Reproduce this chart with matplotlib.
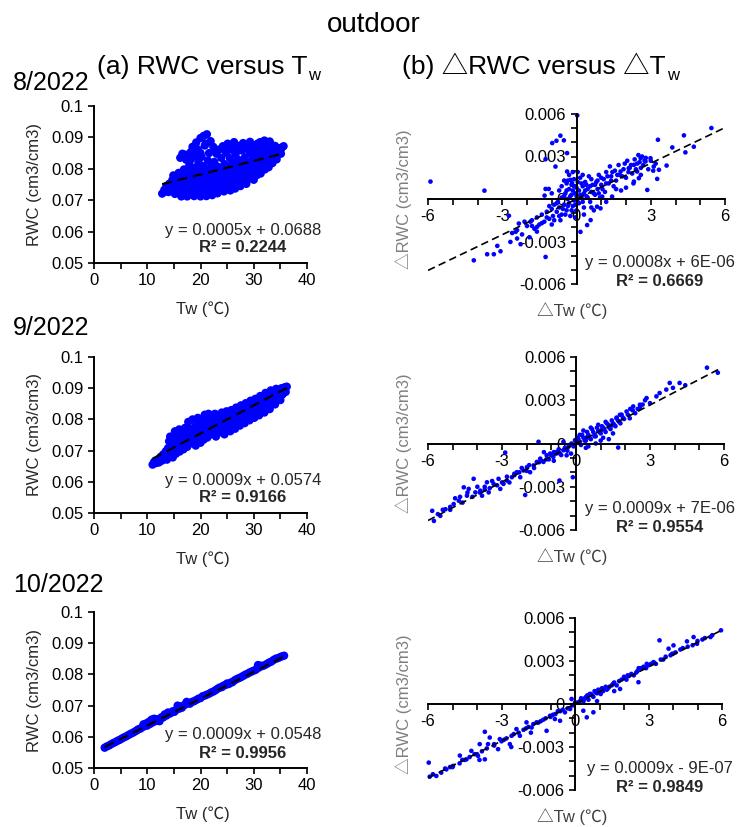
import matplotlib
matplotlib.use('Agg')
import matplotlib.pyplot as plt
import numpy as np
from matplotlib.ticker import MultipleLocator, FixedLocator, FixedFormatter

# Liberation Sans for Latin text, Noto CJK for the triangle and the degree sign
plt.rcParams['font.family'] = ['Liberation Sans', 'Noto Sans CJK SC', 'DejaVu Sans']

FIG_W, FIG_H = 739, 827

# ---------------------------------------------------------------
# Data: (Tw, RWC) for the left column
# ---------------------------------------------------------------
aug_pts = [
    (12.8, 0.0721), (13.2, 0.0733), (13.6, 0.0745), (14.0, 0.0726), (14.1, 0.0752), (14.4, 0.0738),
    (14.7, 0.0764), (14.9, 0.0779), (15.2, 0.0720), (15.3, 0.0748), (15.6, 0.0733), (15.7, 0.0772),
    (15.9, 0.0787), (16.0, 0.0758), (16.2, 0.0835), (16.4, 0.0712), (16.5, 0.0745), (16.6, 0.0848),
    (16.8, 0.0728), (16.9, 0.0798), (17.0, 0.0766), (17.1, 0.0783), (17.3, 0.0829), (17.5, 0.0712),
    (17.6, 0.0742), (17.8, 0.0757), (17.9, 0.0812), (18.0, 0.0727), (18.1, 0.0773), (18.2, 0.0854),
    (18.3, 0.0793), (18.5, 0.0870), (18.6, 0.0838), (18.8, 0.0713), (18.9, 0.0745), (19.0, 0.0760),
    (19.1, 0.0805), (19.2, 0.0884), (19.3, 0.0729), (19.4, 0.0776), (19.5, 0.0862), (19.6, 0.0823),
    (19.8, 0.0791), (20.0, 0.0712), (20.0, 0.0898), (20.1, 0.0745), (20.2, 0.0838), (20.3, 0.0762),
    (20.4, 0.0728), (20.5, 0.0809), (20.6, 0.0905), (20.7, 0.0778), (20.8, 0.0874), (21.0, 0.0794),
    (21.1, 0.0713), (21.2, 0.0910), (21.3, 0.0748), (21.4, 0.0826), (21.5, 0.0765), (21.6, 0.0850),
    (21.7, 0.0731), (21.8, 0.0782), (21.9, 0.0888), (22.0, 0.0807), (22.2, 0.0716), (22.3, 0.0755),
    (22.4, 0.0870), (22.5, 0.0738), (22.6, 0.0822), (22.8, 0.0771), (22.9, 0.0790), (23.0, 0.0848),
    (23.2, 0.0722), (23.3, 0.0806), (23.5, 0.0760), (23.6, 0.0862), (23.7, 0.0742), (23.9, 0.0835),
    (24.0, 0.0781), (24.1, 0.0797), (24.2, 0.0872), (24.4, 0.0728), (24.5, 0.0815), (24.7, 0.0766),
    (24.8, 0.0851), (25.0, 0.0748), (25.1, 0.0880), (25.2, 0.0800), (25.3, 0.0784), (25.5, 0.0834),
    (25.6, 0.0731), (25.8, 0.0867), (25.9, 0.0770), (26.0, 0.0818), (26.2, 0.0752), (26.3, 0.0885),
    (26.4, 0.0800), (26.5, 0.0737), (26.6, 0.0848), (26.8, 0.0785), (26.9, 0.0769), (27.0, 0.0830),
    (27.2, 0.0873), (27.3, 0.0812), (27.5, 0.0745), (27.6, 0.0795), (27.8, 0.0858), (27.9, 0.0761),
    (28.0, 0.0882), (28.2, 0.0777), (28.3, 0.0835), (28.5, 0.0815), (28.6, 0.0752), (28.8, 0.0868),
    (28.9, 0.0797), (29.0, 0.0768), (29.2, 0.0850), (29.3, 0.0886), (29.5, 0.0784), (29.6, 0.0826),
    (29.8, 0.0808), (30.0, 0.0765), (30.1, 0.0866), (30.3, 0.0842), (30.4, 0.0795), (30.6, 0.0780),
    (30.7, 0.0880), (30.9, 0.0820), (31.0, 0.0857), (31.2, 0.0803), (31.3, 0.0785), (31.5, 0.0838),
    (31.7, 0.0874), (31.9, 0.0820), (32.0, 0.0890), (32.1, 0.0798), (32.3, 0.0855), (32.5, 0.0836),
    (32.7, 0.0813), (32.9, 0.0872), (33.0, 0.0887), (33.2, 0.0825), (33.4, 0.0850), (33.6, 0.0866),
    (33.8, 0.0838), (34.0, 0.0873), (34.2, 0.0855), (34.5, 0.0845), (34.7, 0.0866), (35.0, 0.0858),
    (35.3, 0.0868), (35.6, 0.0872),
    # denser lower part of the cloud
    (13.5, 0.0728), (14.5, 0.0730), (15.0, 0.0758), (15.5, 0.0762), (16.0, 0.0722), (16.3, 0.0770),
    (16.7, 0.0755), (17.2, 0.0720), (17.4, 0.0795), (17.7, 0.0770), (18.4, 0.0735), (18.6, 0.0760),
    (18.7, 0.0785), (19.0, 0.0720), (19.4, 0.0742), (19.7, 0.0758), (19.9, 0.0810), (20.2, 0.0722),
    (20.4, 0.0790), (20.9, 0.0740), (20.9, 0.0757), (21.3, 0.0772), (21.5, 0.0722), (21.7, 0.0800),
    (22.1, 0.0730), (22.2, 0.0765), (22.6, 0.0748), (22.7, 0.0802), (23.1, 0.0738), (23.4, 0.0785),
    (23.8, 0.0752), (23.9, 0.0770), (24.3, 0.0743), (24.4, 0.0790), (24.8, 0.0735), (24.9, 0.0808),
    (25.4, 0.0758), (25.5, 0.0775), (25.9, 0.0745), (26.1, 0.0790), (26.6, 0.0762), (26.7, 0.0810),
    (27.1, 0.0752), (27.2, 0.0778), (27.7, 0.0770), (27.8, 0.0822), (28.1, 0.0760), (28.4, 0.0795),
    (28.9, 0.0780), (29.1, 0.0812), (29.4, 0.0770), (29.9, 0.0793), (30.2, 0.0812), (30.5, 0.0830),
    (31.1, 0.0795), (31.4, 0.0815), (31.8, 0.0800), (32.2, 0.0828), (32.6, 0.0850), (32.8, 0.0805),
    (33.1, 0.0840), (33.5, 0.0818), (33.9, 0.0855), (34.3, 0.0830), (34.4, 0.0866), (35.1, 0.0848),
    (20.0, 0.0850), (21.0, 0.0880), (19.0, 0.0845), (18.0, 0.0825), (17.2, 0.0845), (22.8, 0.0858),
    (24.6, 0.0865), (26.0, 0.0860), (27.4, 0.0865), (29.8, 0.0875), (31.2, 0.0885), (33.2, 0.0878),
    (30.9, 0.0868),
]

sep_pts = [
    (11.0, 0.0655), (11.3, 0.0664), (11.7, 0.0660), (12.0, 0.0671), (12.2, 0.0662), (12.5, 0.0680),
    (12.8, 0.0668), (13.0, 0.0688), (13.2, 0.0676), (13.5, 0.0698), (13.7, 0.0671), (13.9, 0.0708),
    (14.0, 0.0685), (14.1, 0.0730), (14.3, 0.0745), (14.5, 0.0694), (14.6, 0.0718), (14.8, 0.0678),
    (15.0, 0.0735), (15.1, 0.0705), (15.2, 0.0762), (15.4, 0.0690), (15.5, 0.0722), (15.7, 0.0748),
    (15.9, 0.0712), (16.0, 0.0768), (16.1, 0.0697), (16.3, 0.0735), (16.5, 0.0757), (16.6, 0.0720),
    (16.8, 0.0704), (17.0, 0.0745), (17.1, 0.0773), (17.3, 0.0730), (17.5, 0.0712), (17.6, 0.0760),
    (17.7, 0.0792), (17.9, 0.0740), (18.0, 0.0722), (18.2, 0.0769), (18.3, 0.0755), (18.5, 0.0800),
    (18.6, 0.0732), (18.8, 0.0748), (19.0, 0.0778), (19.1, 0.0716), (19.3, 0.0762), (19.5, 0.0805),
    (19.6, 0.0740), (19.8, 0.0788), (20.0, 0.0725), (20.1, 0.0770), (20.3, 0.0752), (20.5, 0.0798),
    (20.6, 0.0735), (20.8, 0.0815), (21.0, 0.0780), (21.1, 0.0762), (21.3, 0.0742), (21.5, 0.0818),
    (21.6, 0.0795), (21.8, 0.0772), (22.0, 0.0752), (22.2, 0.0808), (22.3, 0.0786), (22.5, 0.0765),
    (22.7, 0.0818), (22.9, 0.0745), (23.0, 0.0798), (23.2, 0.0778), (23.4, 0.0812), (23.5, 0.0758),
    (23.8, 0.0790), (24.0, 0.0822), (24.1, 0.0768), (24.3, 0.0805), (24.5, 0.0752), (24.7, 0.0784),
    (24.9, 0.0826), (25.0, 0.0770), (25.2, 0.0812), (25.4, 0.0795), (25.6, 0.0762), (25.8, 0.0830),
    (26.0, 0.0780), (26.1, 0.0815), (26.3, 0.0800), (26.5, 0.0770), (26.7, 0.0838), (26.9, 0.0790),
    (27.0, 0.0822), (27.2, 0.0808), (27.4, 0.0780), (27.6, 0.0845), (27.8, 0.0797), (28.0, 0.0830),
    (28.1, 0.0815), (28.3, 0.0788), (28.5, 0.0852), (28.7, 0.0806), (28.9, 0.0838), (29.0, 0.0822),
    (29.2, 0.0797), (29.4, 0.0860), (29.6, 0.0815), (29.8, 0.0847), (30.0, 0.0830), (30.1, 0.0805),
    (30.3, 0.0866), (30.5, 0.0822), (30.7, 0.0855), (30.9, 0.0839), (31.0, 0.0813), (31.2, 0.0875),
    (31.4, 0.0832), (31.6, 0.0862), (31.8, 0.0848), (32.0, 0.0822), (32.2, 0.0885), (32.4, 0.0842),
    (32.6, 0.0870), (32.8, 0.0857), (33.0, 0.0833), (33.2, 0.0893), (33.4, 0.0852), (33.6, 0.0878),
    (33.8, 0.0866), (34.0, 0.0848), (34.2, 0.0898), (34.4, 0.0866), (34.6, 0.0884), (34.8, 0.0875),
    (35.0, 0.0862), (35.2, 0.0900), (35.4, 0.0880), (35.6, 0.0892), (35.8, 0.0903), (36.0, 0.0888),
    (36.2, 0.0905),
]

oct_pts = [
    (2.0, 0.0565), (2.4, 0.0569), (2.8, 0.0572), (3.2, 0.0576), (3.6, 0.0580), (4.0, 0.0583),
    (4.4, 0.0587), (4.8, 0.0590), (5.2, 0.0594), (5.6, 0.0598), (6.0, 0.0601), (6.4, 0.0605),
    (6.8, 0.0609), (7.2, 0.0612), (7.6, 0.0616), (8.0, 0.0620), (8.3, 0.0624), (8.7, 0.0626),
    (9.0, 0.0630), (9.3, 0.0640), (9.5, 0.0634), (9.8, 0.0643), (10.0, 0.0636), (10.3, 0.0648),
    (10.5, 0.0641), (10.8, 0.0655), (11.0, 0.0646), (11.3, 0.0658), (11.5, 0.0650), (11.8, 0.0656),
    (12.0, 0.0653), (12.3, 0.0650), (12.5, 0.0660), (12.8, 0.0664), (13.0, 0.0662), (13.3, 0.0672),
    (13.6, 0.0668), (13.9, 0.0678), (14.2, 0.0674), (14.5, 0.0677), (14.8, 0.0682), (15.1, 0.0680),
    (15.4, 0.0686), (15.7, 0.0700), (16.0, 0.0690), (16.2, 0.0697), (16.5, 0.0693), (16.8, 0.0700),
    (17.1, 0.0703), (17.4, 0.0712), (17.7, 0.0708), (18.0, 0.0706), (18.4, 0.0712), (18.8, 0.0714),
    (19.2, 0.0718), (19.6, 0.0722), (20.0, 0.0724), (20.4, 0.0730), (20.8, 0.0732), (21.2, 0.0735),
    (21.6, 0.0738), (22.0, 0.0742), (22.4, 0.0745), (22.8, 0.0749), (23.2, 0.0754), (23.6, 0.0758),
    (24.0, 0.0759), (24.3, 0.0764), (24.7, 0.0766), (25.0, 0.0771), (25.3, 0.0769), (25.7, 0.0774),
    (26.0, 0.0775), (26.4, 0.0781), (26.8, 0.0785), (27.2, 0.0788), (27.6, 0.0791), (28.0, 0.0795),
    (28.4, 0.0799), (28.8, 0.0802), (29.2, 0.0806), (29.6, 0.0809), (30.0, 0.0812), (30.4, 0.0815),
    (30.8, 0.0830), (31.0, 0.0822), (31.3, 0.0828), (31.7, 0.0827), (32.1, 0.0830), (32.5, 0.0834),
    (32.9, 0.0838), (33.3, 0.0841), (33.7, 0.0846), (34.1, 0.0850), (34.5, 0.0852), (34.9, 0.0855),
    (35.3, 0.0858), (35.7, 0.0860),
]

# (dTw, dRWC) for the right column
aug_delta = [
    (-5.90, 0.00123), (-3.72, 0.00059), (0.03, 0.00590), (5.45, 0.00501), (4.34, 0.00449),
    (4.74, 0.00369), (4.40, 0.00329), (3.87, 0.00364), (3.29, 0.00418), (3.64, 0.00236),
    (3.33, 0.00206), (3.26, 0.00142), (2.86, 0.00064), (-0.65, 0.00447), (-0.81, 0.00411),
    (-0.98, 0.00395), (-0.51, 0.00414), (-0.38, 0.00324), (-1.25, 0.00281), (-0.85, 0.00229),
    (-0.38, 0.00194), (-0.24, 0.00135), (-0.18, 0.00111), (-1.25, 0.00071), (-1.12, 0.00071),
    (-1.29, 0.00024), (-2.73, -0.00118), (-4.15, -0.00433), (-3.61, -0.00390), (-3.34, -0.00390),
    (-3.07, -0.00369), (-3.20, -0.00331), (-2.67, -0.00303), (-2.26, -0.00319), (-2.40, -0.00279),
    (-1.25, -0.00409), (0.16, -0.00232), (-2.33, -0.00173), (-1.86, -0.00160), (-2.46, -0.00232),
    (-1.59, -0.00196), (-2.40, -0.00220), (-2.20, -0.00250), (-2.00, -0.00190), (-1.90, -0.00270),
    (-1.80, -0.00150), (-1.70, -0.00210), (-1.60, -0.00130), (-1.50, -0.00180), (-1.40, -0.00110),
    (-1.30, -0.00160), (-1.20, -0.00090), (-1.10, -0.00140), (-1.00, -0.00070), (-0.95, -0.00120),
    (-0.90, -0.00040), (-0.80, -0.00090), (-0.75, -0.00020), (-0.70, -0.00060), (-0.60, -0.00110),
    (-0.60, 0.00010), (-0.50, -0.00040), (-0.45, 0.00040), (-0.40, -0.00080), (-0.35, 0.00000),
    (-0.30, -0.00030), (-0.30, 0.00070), (-0.25, -0.00120), (-0.20, 0.00030), (-0.15, -0.00050),
    (-0.10, 0.00090), (-0.10, -0.00010), (-0.05, 0.00040), (0.00, -0.00080), (0.00, 0.00020),
    (0.05, 0.00120), (0.10, -0.00030), (0.10, 0.00060), (0.15, 0.00150), (0.20, 0.00010),
    (0.25, 0.00090), (0.30, 0.00040), (0.30, -0.00060), (0.35, 0.00120), (0.40, 0.00020),
    (0.45, 0.00070), (0.50, 0.00160), (0.55, -0.00020), (0.60, 0.00050), (0.65, 0.00100),
    (0.70, -0.00080), (0.75, 0.00030), (0.80, 0.00120), (0.85, 0.00070), (0.90, 0.00170),
    (0.95, 0.00010), (1.00, 0.00100), (1.10, 0.00140), (1.15, 0.00050), (1.20, 0.00190),
    (1.30, 0.00110), (1.35, 0.00230), (1.40, 0.00160), (1.50, 0.00090), (1.55, 0.00200),
    (1.60, 0.00130), (1.70, 0.00240), (1.75, 0.00170), (1.80, 0.00060), (1.90, 0.00210),
    (2.00, 0.00150), (2.05, 0.00270), (2.10, 0.00190), (2.20, 0.00240), (2.30, 0.00110),
    (2.35, 0.00280), (2.40, 0.00210), (2.50, 0.00310), (2.55, 0.00260), (2.60, 0.00170),
    (2.65, 0.00300), (2.70, 0.00240), (2.80, 0.00290), (2.90, 0.00210), (3.00, 0.00270),
    (3.10, 0.00200), (3.20, 0.00250), (1.44, 0.00017), (1.04, 0.00017), (0.83, -0.00054),
    (0.97, -0.00066), (0.57, -0.00149), (0.43, -0.00184), (2.52, 0.00147), (2.32, 0.00123),
    (2.45, 0.00194), (2.11, 0.00217), (1.78, 0.00194), (2.99, 0.00288), (2.79, 0.00265),
    (2.59, 0.00288), (2.32, 0.00241), (3.12, 0.00229), (-0.50, 0.00130), (-0.30, 0.00170),
    (-0.10, 0.00140), (0.05, 0.00190), (-0.20, 0.00100), (-0.70, 0.00060), (-0.40, 0.00110),
    (-1.80, -0.00190), (-1.60, -0.00230), (-1.40, -0.00170), (-1.20, -0.00130), (-1.10, -0.00050),
    (-0.90, -0.00150), (-0.80, -0.00030), (-0.70, -0.00120), (-0.55, -0.00070), (-0.50, 0.00020),
    (-0.45, -0.00110), (-0.40, 0.00060), (-0.35, -0.00050), (-0.25, 0.00020), (-0.20, -0.00080),
    (-0.15, 0.00060), (-0.05, -0.00040), (0.00, 0.00080), (0.05, -0.00020), (0.15, 0.00030),
    (0.20, 0.00110), (0.25, -0.00020), (0.35, 0.00060), (0.40, 0.00100), (0.45, 0.00010),
    (0.55, 0.00090), (0.60, 0.00140), (0.70, 0.00040), (0.75, 0.00100), (0.85, 0.00130),
    (0.90, 0.00040), (1.00, 0.00150), (1.05, 0.00070), (1.20, 0.00110), (1.25, 0.00160),
    (1.40, 0.00130), (1.45, 0.00190), (1.65, 0.00170), (1.85, 0.00160), (1.95, 0.00250),
    (2.15, 0.00220), (2.25, 0.00180), (2.45, 0.00250), (2.60, 0.00220), (2.75, 0.00270),
    (-0.65, -0.00150), (-1.00, -0.00180), (-2.10, -0.00160), (-2.60, -0.00240), (-0.15, 0.00190),
    (-0.35, 0.00130), (0.25, 0.00170), (-0.60, 0.00090), (-1.00, 0.00040), (1.20, -0.00020),
    (1.60, 0.00070), (2.00, 0.00080), (0.30, -0.00110), (-0.05, -0.00130), (0.60, -0.00060),
]

sep_delta = [
    (5.31, 0.00526), (5.75, 0.00491), (4.43, 0.00404), (4.20, 0.00420), (3.80, 0.00420),
    (3.93, 0.00386), (3.66, 0.00374), (3.39, 0.00350), (3.26, 0.00327), (2.86, 0.00315),
    (2.59, 0.00269), (2.32, 0.00257), (2.05, 0.00222), (1.78, 0.00199), (1.64, 0.00175),
    (2.18, 0.00175), (1.71, -0.00028), (1.33, 0.00030), (-1.52, 0.00012), (-2.87, -0.00063),
    (-0.13, -0.00234), (-0.67, -0.00257), (-2.06, -0.00357), (-5.83, -0.00467), (-5.76, -0.00537),
    (-5.50, -0.00502), (-5.29, -0.00456), (-4.96, -0.00420), (-4.75, -0.00397), (-4.55, -0.00304),
    (-4.35, -0.00315), (-4.42, -0.00362), (-4.15, -0.00245), (-4.08, -0.00339), (-3.88, -0.00327),
    (-3.81, -0.00362), (-3.61, -0.00269), (-3.54, -0.00339), (-3.34, -0.00280), (-3.14, -0.00245),
    (-3.07, -0.00315), (-2.94, -0.00280), (-2.80, -0.00257), (-2.60, -0.00234), (-2.40, -0.00199),
    (-2.26, -0.00234), (-2.13, -0.00187), (-1.99, -0.00164), (-1.86, -0.00199), (-1.72, -0.00152),
    (-1.59, -0.00128), (-1.45, -0.00105), (-1.32, -0.00128), (-1.19, -0.00082), (-1.05, -0.00070),
    (-0.92, -0.00093), (-0.78, -0.00058), (-0.65, -0.00070), (-0.51, -0.00047), (-0.38, -0.00082),
    (-0.31, -0.00023), (-0.18, 0.00000), (-0.04, 0.00023), (-0.51, 0.00012), (0.10, 0.00030),
    (0.20, -0.00010), (0.30, 0.00040), (0.40, 0.00020), (0.50, 0.00060), (0.60, 0.00030),
    (0.70, 0.00080), (0.80, 0.00050), (0.90, 0.00090), (1.00, 0.00070), (1.10, 0.00110),
    (1.20, 0.00080), (1.30, 0.00130), (1.40, 0.00100), (1.50, 0.00140), (1.60, 0.00120),
    (1.70, 0.00160), (1.80, 0.00140), (1.90, 0.00180), (0.30, 0.00090), (0.60, 0.00110),
    (0.90, 0.00130), (1.20, 0.00150), (0.50, -0.00020), (1.00, 0.00020), (2.30, 0.00230),
    (2.50, 0.00240), (2.70, 0.00270), (2.80, 0.00300), (3.00, 0.00280), (-4.70, -0.00370),
    (-5.10, -0.00440), (-3.70, -0.00300), (-2.50, -0.00210), (-1.20, -0.00110), (-0.90, -0.00060),
    (0.15, 0.00060), (0.45, 0.00045), (0.75, 0.00060), (1.05, 0.00095), (1.45, 0.00125),
    (-5.60, -0.00490), (-5.40, -0.00460), (-5.10, -0.00460), (-4.90, -0.00380), (-4.60, -0.00410),
    (-4.40, -0.00340), (-4.20, -0.00370), (-4.00, -0.00300), (-3.90, -0.00340), (-3.70, -0.00320),
    (-3.50, -0.00310), (-3.40, -0.00260), (-3.20, -0.00290), (-3.00, -0.00270), (-2.80, -0.00230),
    (-2.70, -0.00270), (-2.50, -0.00220), (-2.30, -0.00200), (-2.20, -0.00170), (-2.00, -0.00190),
    (-1.90, -0.00150), (-1.70, -0.00170), (-1.50, -0.00130), (-1.40, -0.00120), (-1.10, -0.00110),
    (-1.00, -0.00080), (-0.80, -0.00070), (-0.70, -0.00040), (-0.60, -0.00080), (-0.45, -0.00030),
    (-0.35, -0.00050), (-0.25, -0.00010), (-0.10, -0.00020), (0.00, 0.00010), (0.05, 0.00040),
    (0.15, 0.00010), (0.25, 0.00060), (0.35, 0.00020), (0.45, 0.00080), (0.55, 0.00040),
    (0.65, 0.00100), (0.75, 0.00050), (0.85, 0.00110), (0.95, 0.00080), (1.05, 0.00120),
    (1.15, 0.00100), (1.25, 0.00140), (1.35, 0.00110), (1.45, 0.00160), (1.55, 0.00130),
    (1.65, 0.00180), (1.75, 0.00150), (1.85, 0.00200), (1.95, 0.00170), (2.10, 0.00200),
    (2.20, 0.00240), (2.40, 0.00210), (2.60, 0.00250), (0.40, -0.00030), (0.80, 0.00000),
    (1.10, 0.00040), (1.50, 0.00070), (-1.30, -0.00060), (-0.90, -0.00120), (-0.20, -0.00070),
]

oct_delta = [
    (5.96, 0.00514), (5.53, 0.00467), (4.84, 0.00467), (4.57, 0.00437), (4.98, 0.00420),
    (3.45, 0.00444), (4.02, 0.00409), (3.82, 0.00386), (3.96, 0.00350), (3.21, 0.00292),
    (2.93, 0.00280), (2.59, 0.00152), (1.84, 0.00105), (0.48, -0.00093), (0.75, -0.00058),
    (0.34, -0.00047), (-5.97, -0.00409), (-5.93, -0.00507), (-5.66, -0.00502), (-5.46, -0.00479),
    (-5.25, -0.00456), (-4.98, -0.00432), (-4.71, -0.00414), (-4.43, -0.00386), (-4.23, -0.00327),
    (-3.96, -0.00362), (-3.68, -0.00386), (-3.68, -0.00194), (-3.89, -0.00280), (-3.55, -0.00280),
    (-3.48, -0.00234), (-3.14, -0.00315), (-3.07, -0.00245), (-2.66, -0.00280), (-2.59, -0.00222),
    (-2.39, -0.00175), (-2.25, -0.00222), (-1.98, -0.00128), (-1.77, -0.00164), (-1.57, -0.00128),
    (-1.16, -0.00187), (-1.02, -0.00082), (-0.82, -0.00105), (-0.61, -0.00117), (-0.41, -0.00058),
    (-0.20, -0.00035), (-0.14, 0.00035), (0.00, 0.00010), (0.20, 0.00020), (0.40, 0.00040),
    (0.50, 0.00060), (0.70, 0.00060), (0.80, 0.00090), (1.00, 0.00080), (1.10, 0.00110),
    (1.30, 0.00100), (1.50, 0.00130), (1.60, 0.00150), (1.80, 0.00160), (2.00, 0.00190),
    (2.10, 0.00170), (2.30, 0.00210), (2.50, 0.00220), (2.60, 0.00250), (2.80, 0.00260),
    (3.00, 0.00270), (3.20, 0.00290), (3.50, 0.00310), (3.70, 0.00330), (4.00, 0.00350),
    (4.30, 0.00380), (4.60, 0.00400), (5.00, 0.00440), (5.30, 0.00460), (-5.00, -0.00440),
    (-4.50, -0.00390), (-4.00, -0.00350), (-3.30, -0.00290), (-2.90, -0.00250), (-2.00, -0.00170),
    (-1.50, -0.00130), (-1.30, -0.00110), (-0.90, -0.00075), (-0.60, -0.00050), (0.30, 0.00030),
    (0.60, 0.00070), (0.90, 0.00075), (1.20, 0.00105), (1.40, 0.00120), (2.20, 0.00195),
    (-5.80, -0.00490), (-5.30, -0.00450), (-5.10, -0.00440), (-4.60, -0.00390), (-4.30, -0.00370),
    (-4.10, -0.00350), (-3.80, -0.00330), (-3.60, -0.00310), (-3.30, -0.00280), (-3.00, -0.00260),
    (-2.80, -0.00240), (-2.50, -0.00210), (-2.30, -0.00200), (-2.10, -0.00180), (-1.90, -0.00160),
    (-1.70, -0.00140), (-1.40, -0.00120), (-1.20, -0.00100), (-1.00, -0.00090), (-0.80, -0.00070),
    (-0.70, -0.00050), (-0.50, -0.00040), (-0.30, -0.00030), (-0.10, -0.00010), (0.10, 0.00010),
    (0.25, 0.00040), (0.35, 0.00020), (0.45, 0.00050), (0.55, 0.00030), (0.65, 0.00070),
    (0.75, 0.00050), (0.85, 0.00080), (0.95, 0.00100), (1.05, 0.00070), (1.15, 0.00090),
    (1.25, 0.00120), (1.35, 0.00110), (1.55, 0.00140), (1.70, 0.00130), (1.90, 0.00170),
    (2.05, 0.00180), (2.15, 0.00200), (2.40, 0.00200), (2.55, 0.00230), (2.70, 0.00250),
    (2.90, 0.00250), (3.10, 0.00280), (3.30, 0.00280), (3.60, 0.00310), (3.90, 0.00340),
    (4.10, 0.00360), (4.40, 0.00390), (4.80, 0.00410), (5.20, 0.00450), (5.60, 0.00480),
    (0.90, 0.00020), (1.60, 0.00090), (-3.90, -0.00390), (-4.70, -0.00360), (-2.60, -0.00300),
    (-1.80, -0.00200),
]

# Fitted lines as they appear in the picture: slope, intercept, x range
aug_fit = (0.00043, 0.0696, 12.8, 35.6)
sep_fit = (0.00090, 0.0575, 11.0, 36.3)
oct_fit = (0.00086, 0.0550, 2.0, 35.5)
aug_dfit = (0.00084, 0.0, -6.0, 6.0)
sep_dfit = (0.00089, 0.0, -6.0, 5.8)
oct_dfit = (0.00086, 0.0, -6.0, 6.0)

months = ['8/2022', '9/2022', '10/2022']
eq_left = ['y = 0.0005x + 0.0688', 'y = 0.0009x + 0.0574', 'y = 0.0009x + 0.0548']
r2_left = ['R² = 0.2244', 'R² = 0.9166', 'R² = 0.9956']
eq_right = ['y = 0.0008x + 6E-06', 'y = 0.0009x + 7E-06', 'y = 0.0009x - 9E-07']
r2_right = ['R² = 0.6669', 'R² = 0.9554', 'R² = 0.9849']

BLUE = '#0000FF'

fig = plt.figure(figsize=(FIG_W / 100, FIG_H / 100), dpi=100)


def px_axes(left, top, right, bottom):
    """Axes placed by pixel box of the reference image."""
    return fig.add_axes([left / FIG_W, 1 - bottom / FIG_H,
                         (right - left) / FIG_W, (bottom - top) / FIG_H])


def px_text(x, y, s, **kw):
    return fig.text(x / FIG_W, 1 - y / FIG_H, s, **kw)


def draw_fit(ax, fit, lw):
    slope, icpt, x0, x1 = fit
    xs = np.array([x0, x1])
    ax.plot(xs, slope * xs + icpt, color='black', lw=lw, dashes=(4.5, 2.6), zorder=3)


def left_panel(box, pts, fit, eq, r2):
    ax = px_axes(*box)
    tw, rwc = zip(*pts)
    ax.scatter(tw, rwc, s=36, color=BLUE, edgecolors='none', zorder=2)
    draw_fit(ax, fit, 1.6)
    ax.set_xlim(0, 40)
    ax.set_ylim(0.05, 0.1)
    ax.xaxis.set_major_locator(MultipleLocator(10))
    ax.xaxis.set_minor_locator(MultipleLocator(5))
    yt = [0.05, 0.06, 0.07, 0.08, 0.09, 0.1]
    ax.yaxis.set_major_locator(FixedLocator(yt))
    ax.yaxis.set_major_formatter(FixedFormatter(['%g' % v for v in yt]))
    for side in ['top', 'right']:
        ax.spines[side].set_visible(False)
    for side in ['left', 'bottom']:
        ax.spines[side].set_linewidth(1.4)
    ax.tick_params(which='both', direction='out', length=4, width=1.2,
                   labelsize=12, colors='black')
    l, t, r, b = box
    px_text(35, (t + b) / 2, 'RWC (cm3/cm3)', rotation=90, ha='center', va='center',
            fontsize=12, color='#262626')
    px_text((l + r) / 2 + 2, b + 46, 'Tw (℃)', ha='center', va='center', fontsize=12,
            color='#262626')
    px_text(243, b - 33, eq, ha='center', va='center', fontsize=12, color='#262626')
    px_text(243, b - 15, r2, ha='center', va='center', fontsize=12, fontweight='bold',
            color='#262626')
    return ax


def right_panel(box, pts, fit, eq, r2):
    ax = px_axes(*box)
    dt, drwc = zip(*pts)
    ax.scatter(dt, drwc, s=11, color=BLUE, edgecolors='none', zorder=2, clip_on=False)
    draw_fit(ax, fit, 1.2)
    ax.set_xlim(-6, 6)
    ax.set_ylim(-0.006, 0.006)
    ax.spines['left'].set_position(('data', 0))
    ax.spines['bottom'].set_position(('data', 0))
    for side in ['top', 'right']:
        ax.spines[side].set_visible(False)
    for side in ['left', 'bottom']:
        ax.spines[side].set_linewidth(1.4)
    xt = [-6, -3, 0, 3, 6]
    ax.xaxis.set_major_locator(FixedLocator(xt))
    ax.xaxis.set_major_formatter(FixedFormatter([str(v) for v in xt]))
    ax.xaxis.set_minor_locator(MultipleLocator(1))
    yt = [-0.006, -0.003, 0, 0.003, 0.006]
    ax.yaxis.set_major_locator(FixedLocator(yt))
    ax.yaxis.set_major_formatter(FixedFormatter(['%g' % v for v in yt]))
    ax.yaxis.set_minor_locator(MultipleLocator(0.001))
    ax.tick_params(which='both', direction='out', length=4, width=1.2,
                   labelsize=12, colors='black')
    l, t, r, b = box
    px_text(404, (t + b) / 2, '△RWC (cm3/cm3)', rotation=90, ha='center', va='center',
            fontsize=12, color='#7f7f7f')
    px_text(572, b + 27, '△Tw (℃)', ha='center', va='center', fontsize=12,
            color='#404040')
    px_text(660, b - 22, eq, ha='center', va='center', fontsize=12, color='#262626')
    px_text(660, b - 2, r2, ha='center', va='center', fontsize=12, fontweight='bold',
            color='#262626')
    return ax


left_boxes = [(94, 106, 307, 263), (94, 357, 307, 513), (94, 612, 307, 768)]
right_boxes = [(428, 114, 725, 284), (428, 357, 724, 530), (428, 618, 722, 790)]
left_data = [aug_pts, sep_pts, oct_pts]
right_data = [aug_delta, sep_delta, oct_delta]
left_fits = [aug_fit, sep_fit, oct_fit]
right_fits = [aug_dfit, sep_dfit, oct_dfit]

for i in range(3):
    left_panel(left_boxes[i], left_data[i], left_fits[i], eq_left[i], r2_left[i])
    right_panel(right_boxes[i], right_data[i], right_fits[i], eq_right[i], r2_right[i])

# Titles and month labels
px_text(374, 32, 'outdoor', ha='center', va='baseline', fontsize=20)
month_y = [90, 335, 592]
for m, y in zip(months, month_y):
    px_text(13, y, m, ha='left', va='baseline', fontsize=18)

title_a = px_text(97, 74, '(a) RWC versus T', ha='left', va='baseline', fontsize=19)
title_b = px_text(402, 74, '(b) △RWC versus △T', ha='left', va='baseline', fontsize=19)

# subscript "w" right after the T of each column title
renderer = fig.canvas.get_renderer()
for t in [title_a, title_b]:
    bb = t.get_window_extent(renderer)
    fig.text((bb.x1 + 1) / FIG_W, 1 - 80 / FIG_H, 'w', ha='left', va='baseline', fontsize=12)

fig.savefig('out.png', dpi=100)
